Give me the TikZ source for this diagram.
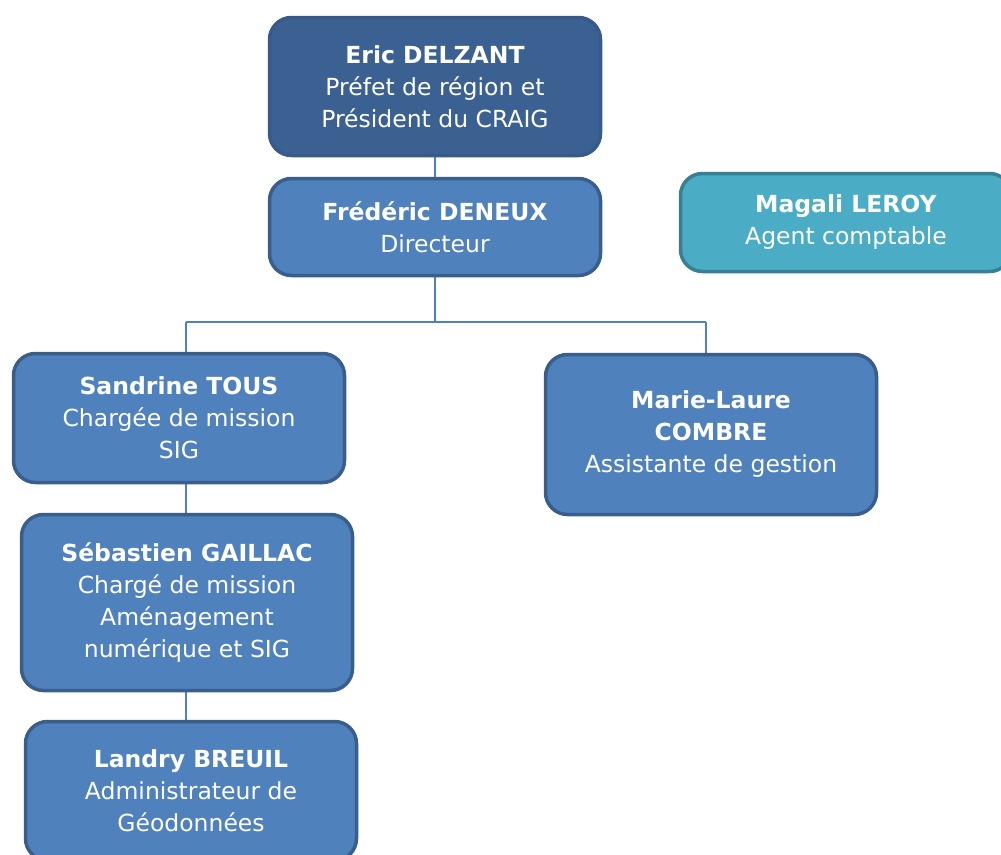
\documentclass[tikz,border=0pt]{standalone}
\usepackage{fontspec}
\setmainfont{DejaVu Sans}
\usepackage{xcolor}
\usetikzlibrary{positioning,backgrounds}

\definecolor{chieffill}{RGB}{59,96,146}
\definecolor{chiefedge}{RGB}{55,90,138}
\definecolor{cardfill}{RGB}{79,129,189}
\definecolor{cardedge}{RGB}{58,94,140}
\definecolor{asidefill}{RGB}{75,172,198}
\definecolor{asideedge}{RGB}{55,128,148}
\definecolor{linkblue}{RGB}{79,129,189}

\begin{document}
\begin{tikzpicture}[x=1pt,y=-1pt,
  card/.style={rectangle,rounded corners=22pt,draw=cardedge,fill=cardfill,
    line width=3.5pt,text=white,align=center,minimum width=331pt,inner sep=0pt,
    font=\fontsize{23.5}{32}\selectfont},
  chief/.style={card,draw=chiefedge,fill=chieffill},
  aside/.style={card,draw=asideedge,fill=asidefill},
  link/.style={draw=linkblue,line width=2pt}]
  \useasboundingbox (0,0) rectangle (1001,854);

  \node [chief,minimum height=138pt] (delzant) at (435,86.5)
    {\textbf{Eric DELZANT}\\Préfet de région et\\Président du CRAIG};
  \node [card,minimum height=97pt] (deneux) at (435,227)
    {\textbf{Frédéric DENEUX}\\Directeur};
  \node [aside,minimum height=98pt] (leroy) at (846,222.5)
    {\textbf{Magali LEROY}\\Agent comptable};
  \node [card,minimum height=129pt] (tous) at (179,418)
    {\textbf{Sandrine TOUS}\\Chargée de mission\\SIG};
  \node [card,minimum height=160pt] (combre) at (711,434.5)
    {\textbf{Marie-Laure}\\\textbf{COMBRE}\\Assistante de gestion};
  \node [card,minimum height=176pt] (gaillac) at (187,602.5)
    {\textbf{Sébastien GAILLAC}\\Chargé de mission\\Aménagement\\numérique et SIG};
  \node [card,minimum height=139pt] (breuil) at (191,791)
    {\textbf{Landry BREUIL}\\Administrateur de\\Géodonnées};

  \coordinate (lbranch) at (186,322);
  \coordinate (rbranch) at (706,322);

  \begin{scope}[on background layer]
    \draw [link] (delzant) -- (deneux);
    \draw [link] (deneux.south) -- (deneux.south |- lbranch);
    \draw [link] (lbranch) -- (rbranch);
    \draw [link] (lbranch) -- (lbranch |- tous.north);
    \draw [link] (rbranch) -- (rbranch |- combre.north);
    \draw [link] (lbranch |- tous.south) -- (lbranch |- gaillac.north);
    \draw [link] (lbranch |- gaillac.south) -- (lbranch |- breuil.north);
  \end{scope}
\end{tikzpicture}
\end{document}
